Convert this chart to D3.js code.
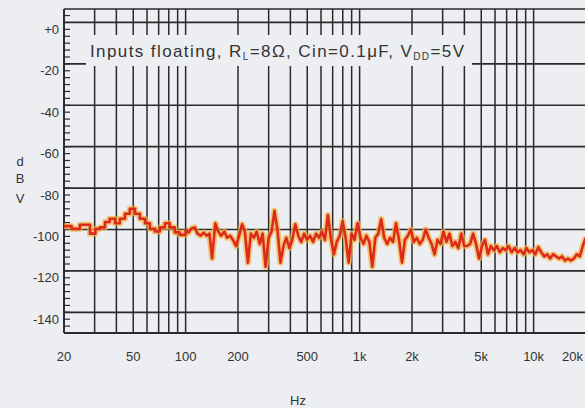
<!DOCTYPE html>
<html><head><meta charset="utf-8">
<script src="https://cdn.jsdelivr.net/npm/d3@7"></script>
<style>
html,body{margin:0;padding:0;background:#eceef2;}
svg{display:block;font-family:"Liberation Sans",Arial,sans-serif;}
</style></head>
<body><svg id="c" width="585" height="408"></svg>
<script>
// ---- data ----
const yTicks = [0,-20,-40,-60,-80,-100,-120,-140];
const yTickLabels = ["+0","-20","-40","-60","-80","-100","-120","-140"];
const xTicks = [20,50,100,200,500,1000,2000,5000,10000,20000];
const xTickLabels = ["20","50","100","200","500","1k","2k","5k","10k","20k"];
const xGrid = [20,30,40,50,60,70,80,90,100,200,300,400,500,600,700,800,900,1000,2000,3000,4000,5000,6000,7000,8000,9000,10000,20000];
const lowFreq = [20,22.1,24.7,28.2,30.3,32.2,34.4,36.6,39.3,41.9,44.8,47.8,51.2,54.6,58.4,62.3,66.6,71.1,76,81,86.6,92.5];
const lowDb = [-98.4,-99.7,-97.7,-102,-99.7,-99,-96.4,-94.8,-97,-94.8,-92.4,-90,-92.4,-94.8,-97,-99.7,-101,-99,-97,-99,-101.4,-102.6];
const hiFreq = [100,104,108,113,117,122,127,132,137,142,148,154,160,167,173,180,187,195,203,211,219,228,237,247,256,267,277,288,300,312,324,337,351,365,379,395,410,427,444,462,480,499,519,540,562,584,607,632,657,683,711,739,769,799,831,865,899,935,973,1012,1052,1094,1138,1183,1231,1280,1331,1384,1440,1497,1557,1619,1684,1752,1822,1895,1970,2049,2131,2216,2305,2397,2493,2593,2696,2804,2917,3033,3155,3281,3412,3548,3690,3838,3991,4151,4317,4490,4669,4856,5050,5252,5463,5681,5908,6145,6390,6646,6912,7188,7476,7775,8086,8409,8746,9095,9459,9838,10231,10640,11066,11508,11969,12447,12945,13463,14002,14562,15144,15750,16380,17035,17717,18425,19162,19929];
const hiDb = [-100,-101.5,-99.5,-99,-102,-103,-101.5,-103,-102,-114,-97,-101,-103,-101,-104,-103,-105,-108,-103,-97.5,-101,-116,-102,-104,-101,-107,-102,-118,-104,-101,-91,-100,-116,-108,-104,-109,-105,-97.5,-103,-106,-102,-105,-103,-106,-102,-104,-101,-105,-93,-104,-112,-106,-103,-96,-104,-116,-102,-105,-97,-104,-107,-103,-106,-118,-104,-102,-95,-104,-107,-104,-106,-97,-105,-116,-105,-103,-100,-106,-104,-107,-105,-100,-104,-107,-112,-105,-107,-101,-106,-102,-108,-106,-109,-102,-108,-108,-107,-102,-107,-114,-108,-105,-112,-108,-110,-108,-111,-109,-110,-108,-111,-109,-111,-110,-112,-109,-111,-110,-112,-108.5,-111,-113,-112,-114,-112,-113,-114,-113,-115,-114,-115,-114,-112,-113,-108,-104];

// ---- chart ----
const svg = d3.select("#c");
const L = 64, R = 586, T = 9, B = 333;
const x = d3.scaleLog().domain([20,20000]).range([L,R]);
const y = d3.scaleLinear().domain([6.5,-150]).range([T,B]);
const gridCol = "#2a2a2a";

const g = svg.append("g");
g.selectAll(".hg").data(yTicks).join("line")
  .attr("x1",L).attr("x2",R).attr("y1",d=>y(d)).attr("y2",d=>y(d))
  .attr("stroke",gridCol).attr("stroke-width",1.7);
g.selectAll(".vg").data(xGrid).join("line")
  .attr("x1",d=>x(d)).attr("x2",d=>x(d)).attr("y1",T).attr("y2",B)
  .attr("stroke",gridCol).attr("stroke-width",1.5);
g.append("line").attr("x1",L).attr("x2",R).attr("y1",T).attr("y2",T).attr("stroke",gridCol).attr("stroke-width",1.6);
g.append("line").attr("x1",L).attr("x2",R).attr("y1",B).attr("y2",B).attr("stroke",gridCol).attr("stroke-width",1.8);
g.append("line").attr("x1",L).attr("x2",L).attr("y1",T).attr("y2",B).attr("stroke",gridCol).attr("stroke-width",1.8);

const minor = d3.range(0,46).map(i => 3.3333 - i*3.3333).filter(v => v > -149 && v < 6);
g.selectAll(".mt").data(minor).join("line")
  .attr("x1",L).attr("x2",L+6).attr("y1",d=>y(d)).attr("y2",d=>y(d))
  .attr("stroke",gridCol).attr("stroke-width",1.2);

// annotation box (hides grid)
svg.append("rect").attr("x",86).attr("y",35).attr("width",386).attr("height",31).attr("fill","#eceef2");
const t = svg.append("text").attr("x",90).attr("y",57).attr("font-size",17)
  .attr("letter-spacing",1.4).attr("fill","#333");
t.append("tspan").text("Inputs floating, R");
t.append("tspan").attr("font-size",10).attr("dy",3).text("L");
t.append("tspan").attr("dy",-3).text("=8Ω, Cin=0.1μF, V");
t.append("tspan").attr("font-size",10).attr("dy",3).text("DD");
t.append("tspan").attr("dy",-3).text("=5V");

svg.selectAll(".yl").data(yTicks).join("text")
  .attr("x",59).attr("y",d=>y(d)+7).attr("dy","0.35em").attr("text-anchor","end")
  .attr("font-size",13).attr("fill","#333").text((d,i)=>yTickLabels[i]);
svg.selectAll(".xl").data(xTicks).join("text")
  .attr("x",(d,i)=> i===xTicks.length-1 ? x(d)-3 : x(d))
  .attr("y",361).attr("text-anchor",(d,i)=> i===xTicks.length-1 ? "end":"middle")
  .attr("font-size",13).attr("fill","#333").text((d,i)=>xTickLabels[i]);
["d","B","V"].forEach((c,i)=>{
  svg.append("text").attr("x",20).attr("y",[166,183,203][i]).attr("text-anchor","middle")
    .attr("font-size",13).attr("fill","#333").text(c);
});
svg.append("text").attr("x",298).attr("y",405).attr("text-anchor","middle")
  .attr("font-size",13).attr("fill","#333").text("Hz");

// data trace
const lowPts = lowFreq.map((f,i)=>[f,lowDb[i]]).concat([[hiFreq[0],hiDb[0]]]);
const hiPts = hiFreq.map((f,i)=>[f,hiDb[i]]);
const lowLine = d3.line().x(d=>x(d[0])).y(d=>y(d[1])).curve(d3.curveStepAfter);
const hiLine = d3.line().x(d=>x(d[0])).y(d=>y(d[1]));
[[lowPts,lowLine],[hiPts,hiLine]].forEach(([p,ln])=>{
  svg.append("path").attr("d",ln(p)).attr("fill","none").attr("stroke","#f5b03c")
    .attr("stroke-width",6).attr("stroke-opacity",0.7).attr("stroke-linejoin","round");
});
[[lowPts,lowLine],[hiPts,hiLine]].forEach(([p,ln])=>{
  svg.append("path").attr("d",ln(p)).attr("fill","none").attr("stroke","#dc2b1c")
    .attr("stroke-width",2.6).attr("stroke-linejoin","round");
});
</script></body></html>
